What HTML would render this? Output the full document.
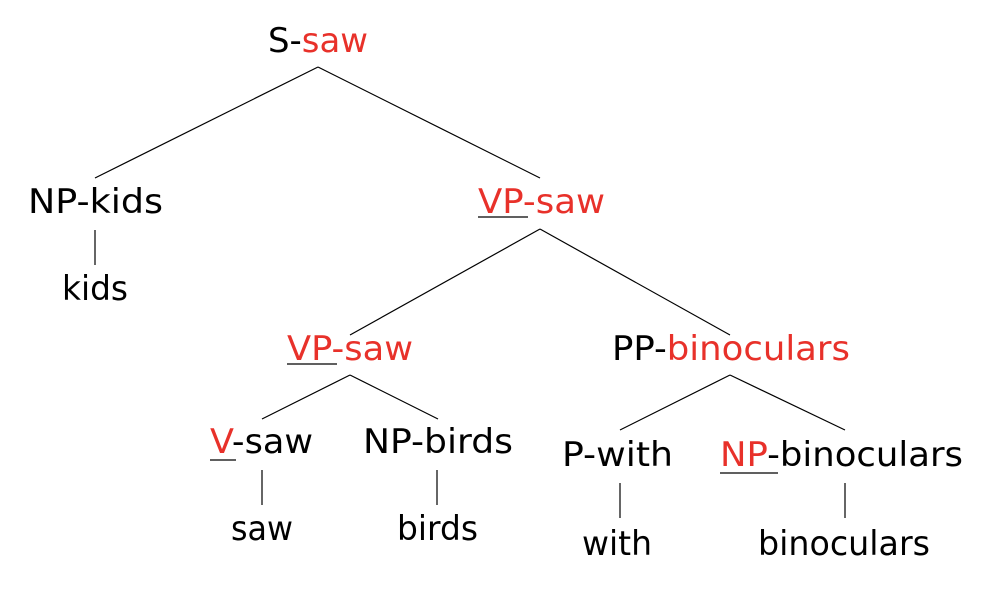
<!DOCTYPE html>
<html><head><style>
html,body{margin:0;padding:0;background:#fff;}
svg{display:block;}
text{font-family:"DejaVu Sans","Liberation Sans",sans-serif;font-size:34px;fill:#000;}
.r{fill:#e8312a;}
line{stroke:#000;stroke-width:1.2;}
</style></head><body>
<svg width="1002" height="598" viewBox="0 0 1002 598" xmlns="http://www.w3.org/2000/svg">
<text x="268" y="52" textLength="100" lengthAdjust="spacingAndGlyphs">S-<tspan class="r">saw</tspan></text>
<line x1="318" y1="67" x2="95" y2="178"/>
<line x1="318" y1="67" x2="540" y2="178"/>

<text x="28" y="213" textLength="135" lengthAdjust="spacingAndGlyphs">NP-kids</text>
<line x1="95" y1="230" x2="95" y2="265"/>
<text x="62" y="300" textLength="66" lengthAdjust="spacingAndGlyphs">kids</text>

<text x="478" y="213" textLength="127" lengthAdjust="spacingAndGlyphs"><tspan class="r">VP</tspan><tspan class="r">-saw</tspan></text>
<line x1="478" y1="217" x2="528" y2="217"/>
<line x1="540" y1="229" x2="350" y2="335"/>
<line x1="540" y1="229" x2="730" y2="335"/>

<text x="287" y="360" textLength="126" lengthAdjust="spacingAndGlyphs"><tspan class="r">VP-saw</tspan></text>
<line x1="287" y1="364" x2="337" y2="364"/>
<line x1="350" y1="375" x2="262" y2="419"/>
<line x1="350" y1="375" x2="438" y2="419"/>

<text x="612" y="360" textLength="238" lengthAdjust="spacingAndGlyphs">PP-<tspan class="r">binoculars</tspan></text>
<line x1="730" y1="375" x2="620" y2="430"/>
<line x1="730" y1="375" x2="845" y2="430"/>

<text x="210" y="453" textLength="103" lengthAdjust="spacingAndGlyphs"><tspan class="r">V</tspan>-saw</text>
<line x1="210" y1="460" x2="236" y2="460"/>
<line x1="262" y1="470" x2="262" y2="505"/>
<text x="231" y="540" textLength="62" lengthAdjust="spacingAndGlyphs">saw</text>

<text x="363" y="453" textLength="150" lengthAdjust="spacingAndGlyphs">NP-birds</text>
<line x1="437" y1="470" x2="437" y2="505"/>
<text x="397" y="540" textLength="81" lengthAdjust="spacingAndGlyphs">birds</text>

<text x="562" y="466" textLength="111" lengthAdjust="spacingAndGlyphs">P-with</text>
<line x1="620" y1="483" x2="620" y2="518"/>
<text x="582" y="555" textLength="70" lengthAdjust="spacingAndGlyphs">with</text>

<text x="720" y="466" textLength="243" lengthAdjust="spacingAndGlyphs"><tspan class="r">NP</tspan>-binoculars</text>
<line x1="720" y1="473" x2="778" y2="473"/>
<line x1="845" y1="483" x2="845" y2="518"/>
<text x="758" y="555" textLength="172" lengthAdjust="spacingAndGlyphs">binoculars</text>
</svg>
</body></html>
